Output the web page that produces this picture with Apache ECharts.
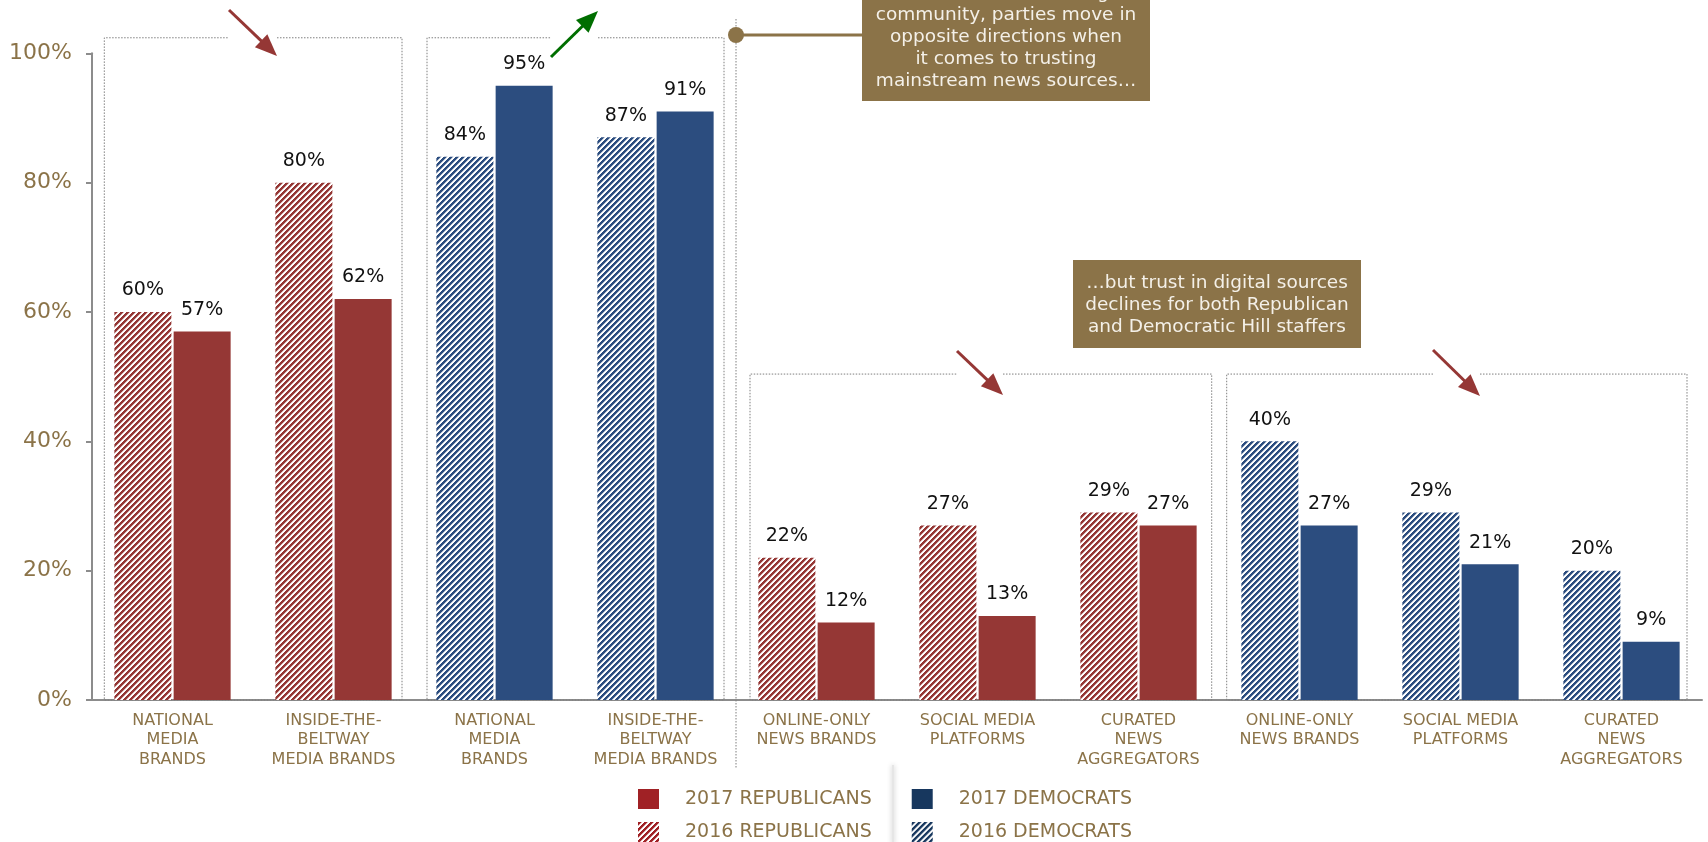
<!DOCTYPE html>
<html>
<head>
<meta charset="utf-8">
<script src="https://cdn.jsdelivr.net/npm/echarts@6/dist/echarts.min.js"></script>
<style>
  html, body { margin: 0; padding: 0; background: #fff; }
  #chart { width: 1708px; height: 842px; }
</style>
</head>
<body>
<div id="chart"></div>
<script>
// data
const categories = [
  'NATIONAL\nMEDIA\nBRANDS', 'INSIDE-THE-\nBELTWAY\nMEDIA BRANDS',
  'NATIONAL\nMEDIA\nBRANDS', 'INSIDE-THE-\nBELTWAY\nMEDIA BRANDS',
  'ONLINE-ONLY\nNEWS BRANDS', 'SOCIAL MEDIA\nPLATFORMS', 'CURATED\nNEWS\nAGGREGATORS',
  'ONLINE-ONLY\nNEWS BRANDS', 'SOCIAL MEDIA\nPLATFORMS', 'CURATED\nNEWS\nAGGREGATORS'
];
const party = ['R', 'R', 'D', 'D', 'R', 'R', 'R', 'D', 'D', 'D'];
const trust2016 = [60, 80, 84, 87, 22, 27, 29, 40, 29, 20];
const trust2017 = [57, 62, 95, 91, 12, 13, 27, 27, 21, 9];

const RED = '#953735';
const BLUE = '#2C4D7F';
const LEG_RED = '#A02125';
const LEG_BLUE = '#17375E';
const GREEN = '#006E00';
const BROWN = '#8B7348';
const FONT = 'DejaVu Sans';

// diagonal "/" hatch as a repeating canvas
function hatch(color) {
  const size = 6;
  const c = document.createElement('canvas');
  c.width = size; c.height = size;
  const ctx = c.getContext('2d');
  ctx.fillStyle = '#fff';
  ctx.fillRect(0, 0, size, size);
  ctx.fillStyle = color;
  for (let x = 0; x < size; x++) {
    for (let y = 0; y < size; y++) {
      const k = (x + y) % size;
      if (k < 3) { ctx.globalAlpha = 1; ctx.fillRect(x, y, 1, 1); }
      else if (k === 3) { ctx.globalAlpha = 0.35; ctx.fillRect(x, y, 1, 1); }
    }
  }
  return { image: c, repeat: 'repeat' };
}

const pick = (vals, p) => vals.map((v, i) => party[i] === p ? v : '-');

const label = {
  show: true,
  position: 'top',
  distance: 12,
  formatter: '{c}%',
  fontFamily: FONT,
  fontSize: 19,
  color: '#111'
};

function barSeries(name, stack, data, color) {
  return {
    name, type: 'bar', stack, data,
    barWidth: 57, barGap: '4%',
    itemStyle: { color },
    label
  };
}

const chart = echarts.init(document.getElementById('chart'));

const legendText = { fontFamily: FONT, fontSize: 19, color: BROWN, padding: [0, 0, 0, 21] };
function legendRow(top, items) {
  return {
    top, left: 638, padding: 0, itemGap: 40,
    itemWidth: 21, itemHeight: 20, icon: 'rect',
    selectedMode: false,
    textStyle: legendText,
    data: items
  };
}

chart.setOption({
  animation: false,
  backgroundColor: '#fff',
  grid: { left: 92, right: 6, top: 53.3, bottom: 142, containLabel: false },
  legend: [
    legendRow(789, [
      { name: '2017 REPUBLICANS', itemStyle: { color: LEG_RED } },
      { name: '2017 DEMOCRATS', itemStyle: { color: LEG_BLUE } }
    ]),
    legendRow(822, [
      { name: '2016 REPUBLICANS', itemStyle: { color: hatch(LEG_RED) } },
      { name: '2016 DEMOCRATS', itemStyle: { color: hatch(LEG_BLUE) } }
    ])
  ],
  xAxis: {
    type: 'category',
    data: categories,
    axisLine: { lineStyle: { color: '#8c8c8c', width: 2 } },
    axisTick: { show: false },
    axisLabel: {
      interval: 0, margin: 11,
      fontFamily: FONT, fontSize: 16, lineHeight: 19.5, color: BROWN
    }
  },
  yAxis: {
    type: 'value', min: 0, max: 100, interval: 20,
    axisLine: { show: true, lineStyle: { color: '#8c8c8c', width: 2 } },
    axisTick: { show: true, length: 6, lineStyle: { color: '#8c8c8c', width: 2 } },
    splitLine: { show: false },
    axisLabel: { formatter: '{value}%', margin: 20, fontFamily: FONT, fontSize: 22, color: BROWN }
  },
  series: [
    barSeries('2016 REPUBLICANS', 'y2016', pick(trust2016, 'R'), hatch(RED)),
    barSeries('2016 DEMOCRATS', 'y2016', pick(trust2016, 'D'), hatch(BLUE)),
    barSeries('2017 REPUBLICANS', 'y2017', pick(trust2017, 'R'), RED),
    barSeries('2017 DEMOCRATS', 'y2017', pick(trust2017, 'D'), BLUE)
  ]
});

// annotations: arrows sit in gaps of the dotted group boxes
const arrows = [
  { x1: 229, y1: 10, x2: 277, y2: 56, color: RED },
  { x1: 551, y1: 57, x2: 598, y2: 11, color: GREEN },
  { x1: 957, y1: 351, x2: 1003, y2: 395, color: RED },
  { x1: 1433, y1: 350, x2: 1480, y2: 396, color: RED }
];
// group boxes: first/last category, inset from band edge, top value
const boxes = [
  { from: 0, to: 1, padL: 12.3, padR: 12, top: 102.4 },
  { from: 2, to: 3, padL: 13, padR: 12, top: 102.4 },
  { from: 4, to: 6, padL: 14, padR: 7.3, top: 50.4 },
  { from: 7, to: 9, padL: 7.7, padR: 15, top: 50.4 }
];

const px = i => chart.convertToPixel({ xAxisIndex: 0 }, i);
const py = v => chart.convertToPixel({ yAxisIndex: 0 }, v);
const band = px(1) - px(0);
const baseY = py(0);

const graphics = [];
const dotted = { stroke: '#7f7f7f', lineWidth: 1, lineDash: [1.5, 1.5], fill: null };

boxes.forEach((b, k) => {
  const left = px(b.from) - band / 2 + b.padL;
  const right = px(b.to) + band / 2 - b.padR;
  const top = py(b.top);
  const a = arrows[k];
  const gL = Math.min(a.x1, a.x2), gR = Math.max(a.x1, a.x2);
  graphics.push({
    type: 'polyline', z: 1, silent: true,
    shape: { points: [[gR, top], [right, top], [right, baseY], [left, baseY], [left, top], [gL, top]] },
    style: dotted
  });
});

// separator between mainstream and digital groups
const sepX = px(4) - band / 2;
graphics.push({
  type: 'line', z: 1, silent: true,
  shape: { x1: sepX, y1: 19, x2: sepX, y2: 768 },
  style: { stroke: '#7f7f7f', lineWidth: 1, lineDash: [1.5, 1.5] }
});

arrows.forEach(a => {
  const dx = a.x2 - a.x1, dy = a.y2 - a.y1;
  const len = Math.sqrt(dx * dx + dy * dy);
  const ux = dx / len, uy = dy / len;
  const head = 22, half = 9;
  const bx = a.x2 - ux * head, by = a.y2 - uy * head;
  graphics.push({
    type: 'line', z: 10, silent: true,
    shape: { x1: a.x1, y1: a.y1, x2: bx + ux * 2, y2: by + uy * 2 },
    style: { stroke: a.color, lineWidth: 3 }
  });
  graphics.push({
    type: 'polygon', z: 10, silent: true,
    shape: { points: [[a.x2, a.y2], [bx - uy * half, by + ux * half], [bx + uy * half, by - ux * half]] },
    style: { fill: a.color }
  });
});

// callout boxes
const callouts = [
  { x: 862, y: -20, w: 288, h: 121, textTop: -18,
    text: 'Within the Hill staffing\ncommunity, parties move in\nopposite directions when\nit comes to trusting\nmainstream news sources…' },
  { x: 1073, y: 260, w: 288, h: 88, textTop: 272,
    text: '…but trust in digital sources\ndeclines for both Republican\nand Democratic Hill staffers' }
];
callouts.forEach(c => {
  graphics.push({
    type: 'rect', z: 10, silent: true,
    shape: { x: c.x, y: c.y, width: c.w, height: c.h },
    style: { fill: BROWN }
  });
  graphics.push({
    type: 'text', z: 11, silent: true,
    style: {
      text: c.text, x: c.x + c.w / 2, y: c.textTop,
      textAlign: 'center', textVerticalAlign: 'top',
      fontFamily: FONT, fontSize: 18.5, lineHeight: 22, fill: '#F4F0E8'
    }
  });
});

// connector from the separator to the first callout
graphics.push({
  type: 'line', z: 10, silent: true,
  shape: { x1: sepX, y1: 35, x2: 862, y2: 35 },
  style: { stroke: BROWN, lineWidth: 3 }
});
graphics.push({
  type: 'circle', z: 10, silent: true,
  shape: { cx: sepX, cy: 35, r: 8 },
  style: { fill: BROWN }
});

// faint shadow divider in the legend
graphics.push({
  type: 'rect', z: 1, silent: true,
  shape: { x: 892, y: 765, width: 2, height: 80 },
  style: { fill: '#e6e6e6', shadowBlur: 5, shadowColor: 'rgba(0,0,0,0.25)' }
});

chart.setOption({ graphic: graphics });
</script>
</body>
</html>
